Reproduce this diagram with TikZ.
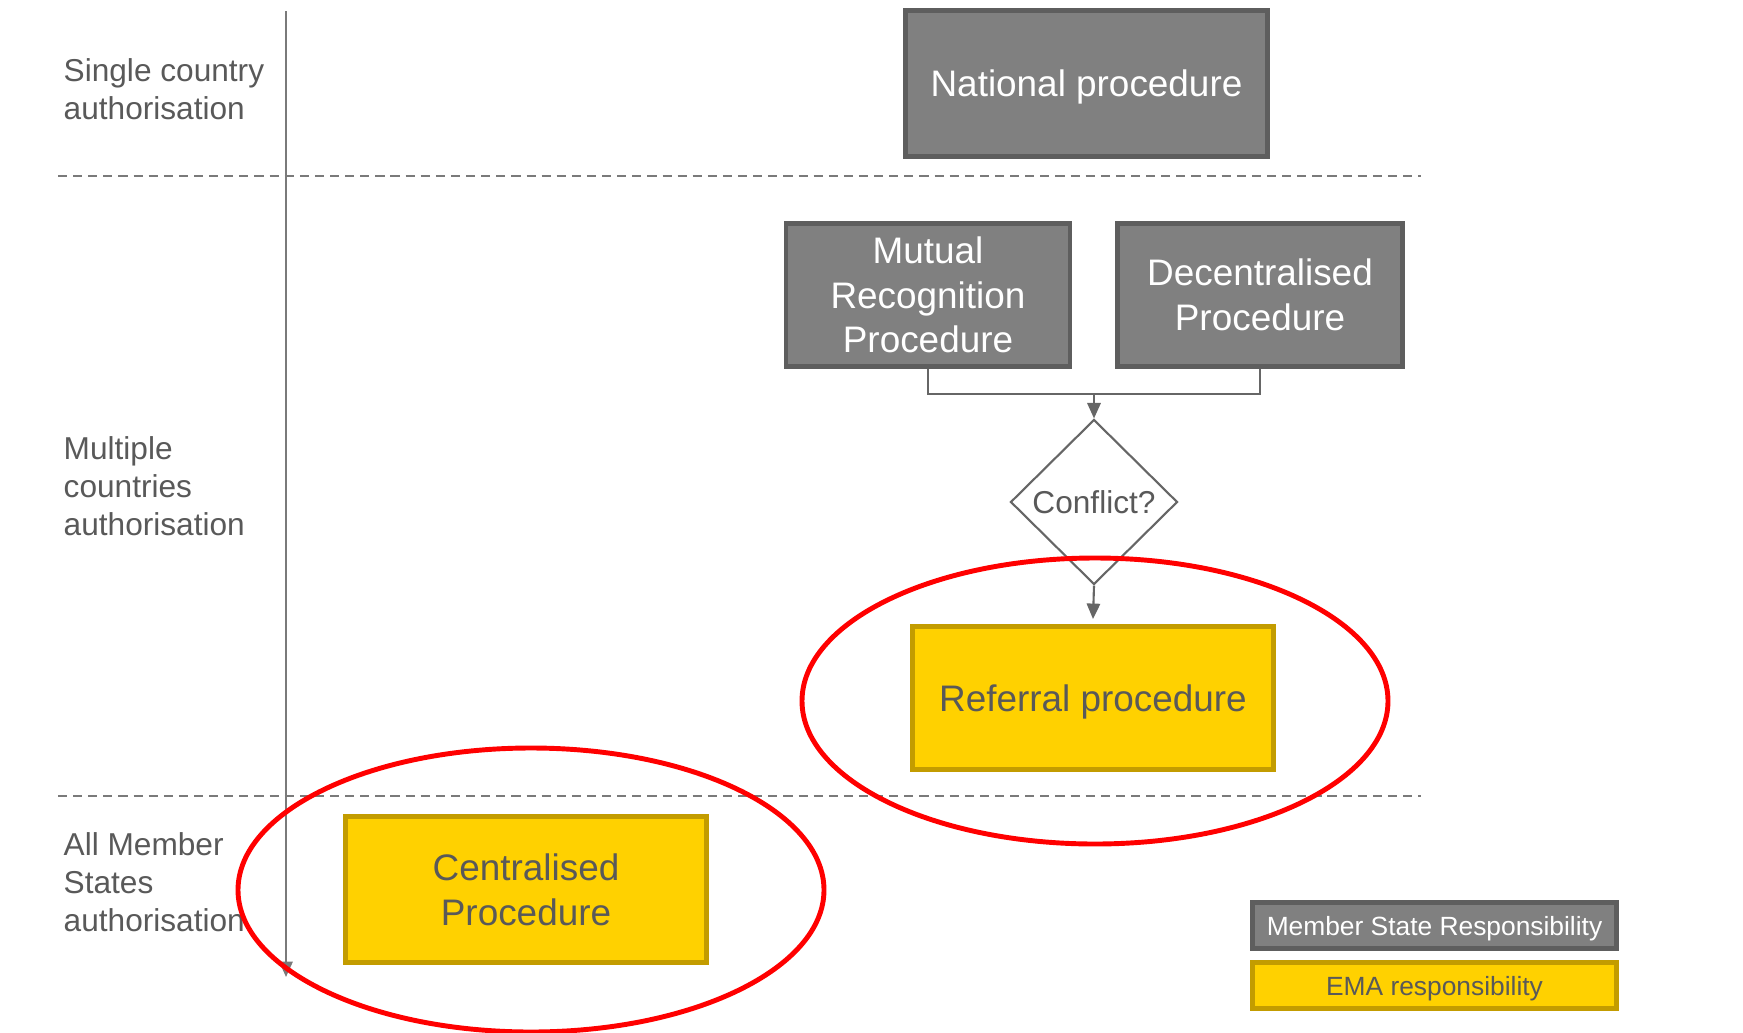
\documentclass[tikz,border=0pt]{standalone}
\usepackage{fontspec}
\setmainfont{Liberation Sans}
\usepackage{tikz}
\usepackage{xcolor}
\usetikzlibrary{arrows.meta}
\usetikzlibrary{shapes.geometric}
\definecolor{msfill}{HTML}{808080}
\definecolor{msline}{HTML}{5E5E5E}
\definecolor{emafill}{HTML}{FFD100}
\definecolor{emaline}{HTML}{C39C00}
\definecolor{txtgray}{HTML}{595959}
\definecolor{wiregray}{HTML}{666666}
\definecolor{axisgray}{HTML}{7A7A7A}
\tikzset{
  boxfont/.style={font=\fontsize{10.5}{12.7}\selectfont},
  msbox/.style={draw=msline, fill=msfill, line width=1.4pt, text=white,
    align=center, boxfont},
  emabox/.style={draw=emaline, fill=emafill, line width=1.4pt, text=txtgray,
    align=center, boxfont},
  oneline/.style={text depth=0pt},
  keybox/.style={line width=1.4pt, minimum width=3.64cm, minimum height=0.46cm,
    inner sep=0pt, oneline, font=\fontsize{7.5}{9}\selectfont},
  rowlabel/.style={anchor=west, inner sep=0pt, align=left, text=txtgray,
    font=\fontsize{9}{10.8}\selectfont},
  arr/.style={draw=wiregray, line width=0.6pt,
    -{Triangle[width=3.8pt,length=4.4pt]}},
  divider/.style={draw=axisgray, line width=0.6pt, dash pattern=on 2.6pt off 1.7pt},
  circled/.style={draw=red, line width=1.4pt}
}
\begin{document}
\begin{tikzpicture}
  \useasboundingbox (0,0) rectangle (17.43,10.32);

  \draw[divider] (0.58,8.56) -- (14.21,8.56);
  \draw[divider] (0.58,2.36) -- (14.21,2.36);
  \coordinate (axtop) at (2.86,10.21);
  \coordinate (axbot) at (2.86,0.55);
  \draw[arr, draw=axisgray] (axtop) -- (axbot);

  \node (sc) [rowlabel] at (0.63,9.43) {Single country\\authorisation};
  \node (mc) [rowlabel] at (0.63,5.46) {Multiple\\countries\\authorisation};
  \node (am) [rowlabel] at (0.63,1.50) {All Member\\States\\authorisation};

  \node (np) [msbox, oneline, minimum width=3.62cm, minimum height=1.46cm]
    at (10.865,9.485) {National procedure};
  \node (mr) [msbox, minimum width=2.84cm, minimum height=1.43cm]
    at (9.28,7.37) {Mutual\\Recognition\\Procedure};
  \node (dp) [msbox, minimum width=2.85cm, minimum height=1.43cm]
    at (12.60,7.37) {Decentralised\\Procedure};
  \node (cf) [diamond, draw=wiregray, line width=0.6pt, fill=white, inner sep=0pt,
    minimum width=1.67cm, minimum height=1.65cm, text=txtgray,
    font=\fontsize{9}{10.8}\selectfont] at (10.94,5.30) {Conflict?};
  \node (rp) [emabox, oneline, minimum width=3.61cm, minimum height=1.43cm]
    at (10.93,3.34) {Referral procedure};
  \node (cp) [emabox, minimum width=3.61cm, minimum height=1.46cm]
    at (5.26,1.425) {Centralised\\Procedure};

  \node (kms) [keybox, draw=msline, fill=msfill, text=white]
    at (14.345,1.065) {Member State Responsibility};
  \node (kema) [keybox, draw=emaline, fill=emafill, text=txtgray]
    at (14.345,0.465) {EMA responsibility};

  \coordinate (join) at (10.94,6.38);
  \draw[draw=wiregray, line width=0.6pt] (mr.south) |- (join) -| (dp.south);
  \draw[arr] (join) -- (cf.north);
  \draw[arr] (cf.south) -- ([yshift=0.05cm]rp.north);

  \draw[circled] (10.95,3.31) ellipse [x radius=2.93, y radius=1.43];
  \draw[circled] (5.31,1.42) ellipse [x radius=2.93, y radius=1.42];
\end{tikzpicture}
\end{document}
